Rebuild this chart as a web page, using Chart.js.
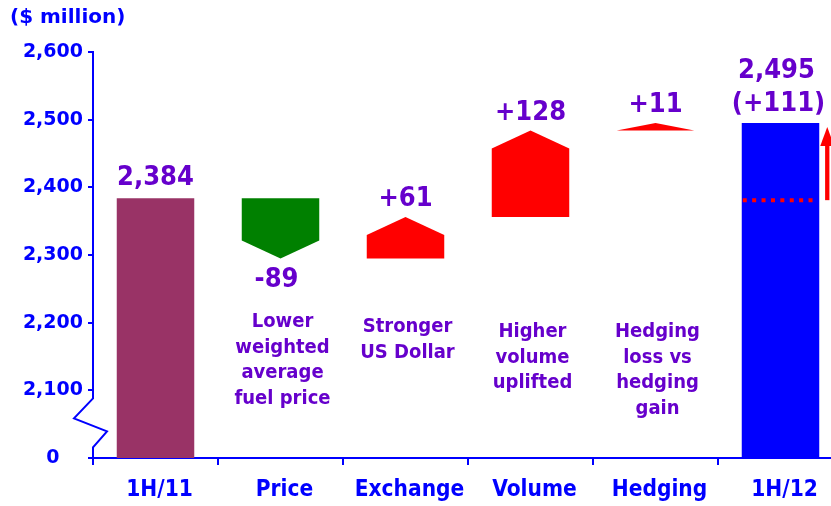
<!DOCTYPE html>
<html><head><meta charset="utf-8">
<script src="https://cdn.jsdelivr.net/npm/chart.js@4"></script>
<style>
html,body{margin:0;padding:0;background:#fff;overflow:hidden;width:831px;height:506px}
#wrap{position:relative;width:843px;height:506px}
</style>
</head><body>
<div id="wrap"><canvas id="c" width="843" height="506"></canvas></div>
<script>
// ---- data ----
const categories = ['1H/11', 'Price', 'Exchange', 'Volume', 'Hedging', '1H/12'];
const openingTotal = 2384;
const deltas = [-89, 61, 128, 11];
const closingTotal = 2495;
const axisBreakValue = 2000;           // shown as "0" below the axis break
const yTickValues = [2000, 2100, 2200, 2300, 2400, 2500, 2600];
const yTickLabels = ['0', '2,100', '2,200', '2,300', '2,400', '2,500', '2,600'];
const notes = [null,
  ['Lower', 'weighted', 'average', 'fuel price'],
  ['Stronger', 'US Dollar'],
  ['Higher', 'volume', 'uplifted'],
  ['Hedging', 'loss vs', 'hedging', 'gain'],
  null];

// ---- derived ----
const fmt = v => v.toLocaleString('en-US');
const signed = v => (v > 0 ? '+' : '') + fmt(v);
const bars = [[axisBreakValue, openingTotal]];
const starts = [], ends = [];
let run = openingTotal;
deltas.forEach(d => { starts.push(run); ends.push(run + d); bars.push([Math.min(run, run + d), Math.max(run, run + d)]); run += d; });
bars.push([axisBreakValue, closingTotal]);
const totalChange = closingTotal - openingTotal;

const BLUE = '#0000ff', PURPLE = '#6600cc', RED = '#ff0000', GREEN = '#008000';
const FONT = "'DejaVu Sans', Verdana, sans-serif";
const CFONT = "'DejaVu Sans Condensed', 'DejaVu Sans', sans-serif";
const colors = ['#993366', 'rgba(0,0,0,0)', 'rgba(0,0,0,0)', 'rgba(0,0,0,0)', 'rgba(0,0,0,0)', BLUE];

const noteTopPx = [0, 322, 327, 332, 332, 0];

const waterfall = {
  id: 'waterfall',
  afterDatasetsDraw(chart) {
    const ctx = chart.ctx, y = chart.scales.y;
    const meta = chart.getDatasetMeta(0);
    ctx.save();
    ctx.textAlign = 'center';
    ctx.textBaseline = 'middle';
    // pentagons
    deltas.forEach((d, k) => {
      const i = k + 1, el = meta.data[i];
      const xc = el.x, hw = el.width / 2;
      const y0 = y.getPixelForValue(starts[k]), y1 = y.getPixelForValue(ends[k]);
      const h = Math.min(18, Math.abs(y1 - y0));
      const dir = d > 0 ? 1 : -1;
      const ys = y1 + dir * h;
      ctx.beginPath();
      ctx.moveTo(xc - hw, y0);
      ctx.lineTo(xc - hw, ys);
      ctx.lineTo(xc, y1);
      ctx.lineTo(xc + hw, ys);
      ctx.lineTo(xc + hw, y0);
      ctx.closePath();
      ctx.fillStyle = d > 0 ? RED : GREEN;
      ctx.fill();
      ctx.fillStyle = PURPLE;
      ctx.font = 'bold 27px ' + CFONT;
      ctx.fillText(signed(d), d > 0 ? xc : xc - 4, d > 0 ? y1 - 18 : y1 + 22);
    });
    // total labels
    ctx.fillStyle = PURPLE;
    ctx.font = 'bold 27px ' + CFONT;
    const e0 = meta.data[0], e5 = meta.data[5];
    ctx.fillText(fmt(openingTotal), e0.x, y.getPixelForValue(openingTotal) - 20);
    const yc = y.getPixelForValue(closingTotal);
    ctx.fillText(fmt(closingTotal), e5.x - 4, yc - 52);
    ctx.fillText('(' + signed(totalChange) + ')', e5.x - 2, yc - 19);
    // notes
    ctx.font = 'bold 20px ' + CFONT;
    notes.forEach((lines, i) => {
      if (!lines) return;
      const xc = meta.data[i].x + 2;
      lines.forEach((t, j) => ctx.fillText(t, xc, noteTopPx[i] + j * 25.5));
    });
    // dotted reference line at opening level across the closing bar
    const yo = y.getPixelForValue(openingTotal) + 2;
    ctx.strokeStyle = RED;
    ctx.lineWidth = 4;
    ctx.setLineDash([4, 5.4]);
    ctx.beginPath();
    ctx.moveTo(e5.x - e5.width / 2 + 1, yo);
    ctx.lineTo(e5.x + e5.width / 2 - 2, yo);
    ctx.stroke();
    ctx.setLineDash([]);
    // arrow
    const ax = e5.x + e5.width / 2 + 8;
    const tip = yc + 4;
    ctx.lineWidth = 4.3;
    ctx.beginPath();
    ctx.moveTo(ax, yo);
    ctx.lineTo(ax, tip + 16);
    ctx.stroke();
    ctx.fillStyle = RED;
    ctx.beginPath();
    ctx.moveTo(ax, tip);
    ctx.lineTo(ax - 7, tip + 19);
    ctx.lineTo(ax + 7, tip + 19);
    ctx.closePath();
    ctx.fill();
    ctx.restore();
  },
  afterDraw(chart) {
    const ctx = chart.ctx, y = chart.scales.y;
    const L = chart.chartArea.left;
    const yb = y.getPixelForValue(yTickValues[1]);
    ctx.save();
    ctx.fillStyle = '#fff';
    ctx.fillRect(L - 3, yb + 7, 6, 50);
    ctx.strokeStyle = BLUE;
    ctx.lineWidth = 2;
    ctx.beginPath();
    ctx.moveTo(L, yb + 6);
    ctx.lineTo(L, yb + 8);
    ctx.lineTo(L - 19, yb + 28);
    ctx.lineTo(L + 14, yb + 41);
    ctx.lineTo(L, yb + 57);
    ctx.lineTo(L, yb + 60);
    ctx.stroke();
    // unit title
    ctx.fillStyle = BLUE;
    ctx.font = 'bold 20px ' + FONT;
    ctx.textAlign = 'left';
    ctx.textBaseline = 'middle';
    ctx.fillText('($ million)', 10, 18);
    ctx.restore();
  }
};

new Chart(document.getElementById('c'), {
  type: 'bar',
  data: {
    labels: categories,
    datasets: [{
      data: bars,
      backgroundColor: colors,
      borderWidth: 0,
      barPercentage: 0.62,
      categoryPercentage: 1
    }]
  },
  options: {
    responsive: false,
    animation: false,
    layout: { padding: { top: 52, left: 0, right: 0, bottom: 0 } },
    plugins: { legend: { display: false }, tooltip: { enabled: false } },
    scales: {
      x: {
        grid: { display: true, drawOnChartArea: false, drawTicks: true, tickLength: 7, color: BLUE, lineWidth: 2, offset: true },
        border: { color: BLUE, width: 2 },
        ticks: { color: BLUE, font: { family: CFONT, size: 22.5, weight: 'bold' }, padding: 12, labelOffset: 4, maxRotation: 0, autoSkip: false },
        afterFit: s => { s.height = 48; }
      },
      y: {
        min: axisBreakValue,
        max: yTickValues[yTickValues.length - 1],
        afterBuildTicks: s => { s.ticks = yTickValues.map(v => ({ value: v })); },
        grid: { drawOnChartArea: false, drawTicks: true, tickLength: 5, color: BLUE, lineWidth: 2 },
        border: { color: BLUE, width: 2 },
        ticks: {
          color: BLUE, font: { family: FONT, size: 19, weight: 'bold' }, padding: 5,
          callback: (v, i) => yTickLabels[i] + (v === axisBreakValue ? '   \u2009' : '')
        },
        afterFit: s => { s.width = 93; }
      }
    }
  },
  plugins: [waterfall]
});
</script>
</body></html>
